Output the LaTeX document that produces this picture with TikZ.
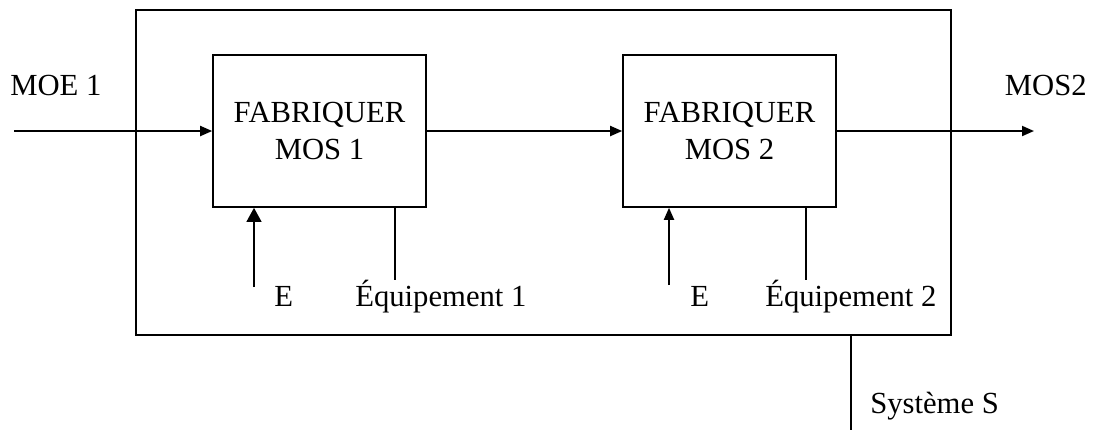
\documentclass[tikz,border=0pt]{standalone}
\usepackage{fontspec}
\setmainfont{Liberation Serif}
\usetikzlibrary{arrows.meta}
\begin{document}
\begin{tikzpicture}[x=0.75pt,y=-0.75pt,
  proc/.style={draw,line width=1.2pt,minimum width=213*0.75pt,minimum height=152*0.75pt,inner sep=0pt,align=center,font=\fontsize{23}{28}\selectfont},
  lbl/.style={font=\fontsize{23}{28}\selectfont,inner sep=0pt},
  flow/.style={line width=1.4pt,-{Triangle[length=9pt,width=7.5pt]}},
  bigflow/.style={line width=1.6pt,-{Triangle[length=10.5pt,width=11pt]}},
  plain/.style={line width=1pt}]
\useasboundingbox (0,0) rectangle (1094,430);
\node[draw,line width=1pt,minimum width=815*0.75pt,minimum height=325*0.75pt,inner sep=0pt] (sys) at (543.5,172.5) {};
\node[proc] (p1) at (319.5,131) {FABRIQUER\\MOS 1};
\node[proc] (p2) at (729.5,131) {FABRIQUER\\MOS 2};
\coordinate (in) at (14,131);
\coordinate (out) at (1034,131);
\draw[flow] (in) -- (p1.west);
\draw[flow] (p1.east) -- (p2.west);
\draw[flow] (p2.east) -- (out);
\node[lbl,anchor=base west] (moe) at (10,95) {MOE 1};
\node[lbl,anchor=base east] (mos) at (1087,95) {MOS2};
\coordinate (e1) at (254,287);
\coordinate (e2) at (669,285);
\draw[bigflow] (e1) -- (e1 |- p1.south);
\draw[flow] (e2) -- (e2 |- p2.south);
\coordinate (q1) at (395,280);
\coordinate (q2) at (806,280);
\draw[plain] (q1 |- p1.south) -- (q1);
\draw[plain] (q2 |- p2.south) -- (q2);
\node[lbl,anchor=base west] (le1) at (274,306) {E};
\node[lbl,anchor=base west] (lq1) at (355,306) {Équipement 1};
\node[lbl,anchor=base west] (le2) at (690,306) {E};
\node[lbl,anchor=base west] (lq2) at (765,306) {Équipement 2};
\coordinate (s) at (851,430);
\draw[plain] (s |- sys.south) -- (s);
\node[lbl,anchor=base west] (ls) at (870,413) {Système S};
\end{tikzpicture}
\end{document}
